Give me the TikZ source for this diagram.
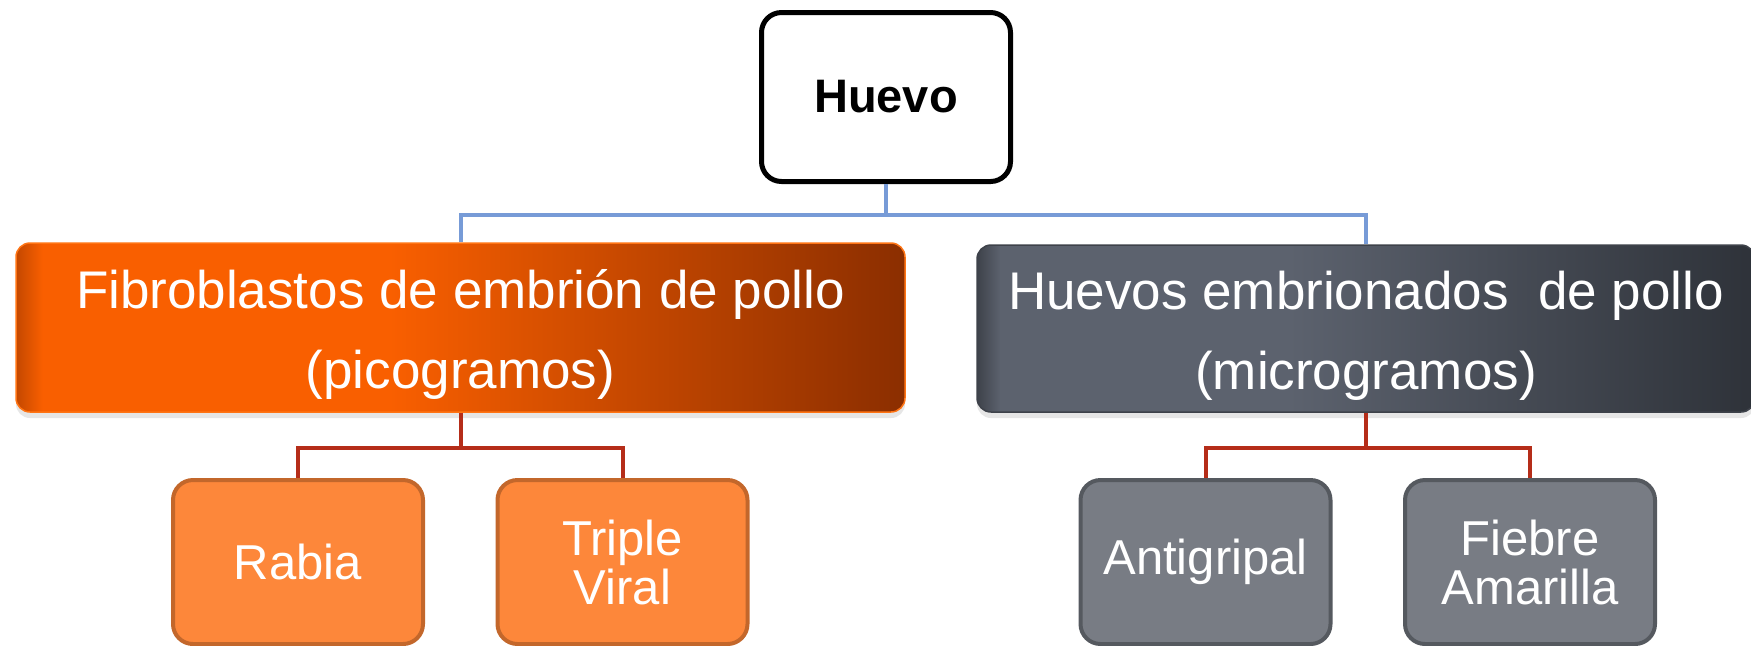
\documentclass[tikz,border=0pt]{standalone}
\usepackage{fontspec}
\setmainfont{Liberation Sans}
\usetikzlibrary{shadows}

\newcommand{\dosrenglones}[2]{\rule{0pt}{27pt}#1\\#2\rule[-6pt]{0pt}{0pt}}

\definecolor{naranjaclaro}{HTML}{F95F00}
\definecolor{naranjaoscuro}{HTML}{8B2E00}
\definecolor{naranjaborde}{HTML}{C44800}
\definecolor{naranjalinea}{HTML}{FF7414}
\definecolor{pizarraclaro}{HTML}{5C626E}
\definecolor{pizarraoscuro}{HTML}{2E3239}
\definecolor{pizarraborde}{HTML}{3E424A}
\definecolor{vacunanaranja}{HTML}{FD873A}
\definecolor{vacunanaranjaborde}{HTML}{C3672B}
\definecolor{vacunagris}{HTML}{787C84}
\definecolor{vacunagrisborde}{HTML}{55595F}
\definecolor{azul}{HTML}{779BD7}
\definecolor{rojo}{HTML}{B52D19}

\pgfdeclarehorizontalshading{naranja}{100bp}{color(0bp)=(naranjaborde); color(25bp)=(naranjaborde); color(26.5bp)=(naranjaclaro); color(46bp)=(naranjaclaro); color(75bp)=(naranjaoscuro); color(100bp)=(naranjaoscuro)}
\pgfdeclarehorizontalshading{pizarra}{100bp}{color(0bp)=(pizarraborde); color(25bp)=(pizarraborde); color(26.5bp)=(pizarraclaro); color(45bp)=(pizarraclaro); color(75bp)=(pizarraoscuro); color(100bp)=(pizarraoscuro)}

\begin{document}
\begin{tikzpicture}
                \tikzset{x=5pt, y=-5pt}
                \tikzstyle{raiz}=[rectangle, draw=black, line width=2.5pt, rounded corners=10pt, fill=white, minimum width=124.5pt, minimum height=84.5pt, font=\fontsize{23.5}{28}\selectfont\bfseries]
                \tikzstyle{grupo}=[rectangle, rounded corners=7pt, line width=0.75pt, text=white, align=center, inner ysep=2pt, font=\fontsize{26.5}{39.7}\selectfont, drop shadow={shadow xshift=0pt, shadow yshift=-3pt, opacity=0.2}]
                \tikzstyle{vacuna}=[rectangle, rounded corners=10pt, line width=2pt, minimum width=125pt, minimum height=82pt, text=white, align=center, font=\fontsize{24.5}{24.5}\selectfont]
                \tikzstyle{tronco}=[line width=2pt, draw=azul]
                \tikzstyle{rama}=[line width=2pt, draw=rojo]

                \useasboundingbox (0.0, 0.0) rectangle (175.1, 64.5);

                \draw (88.6, 9.7)     node[raiz]      (huevo)      {Huevo};

                \draw (46.05, 32.75)  node[grupo, shading=naranja, draw=naranjalinea, minimum width=444.5pt, minimum height=84.5pt]   (fibro)  {\dosrenglones{Fibroblastos de embrión de pollo}{(picogramos)}};
                \draw (136.6, 32.85)  node[grupo, shading=pizarra, draw=pizarraborde, minimum width=389pt, minimum height=83.5pt]   (huevos) {\dosrenglones{Huevos embrionados\ \ de pollo}{(microgramos)}};

                \draw (29.8, 56.2)    node[vacuna, fill=vacunanaranja, draw=vacunanaranjaborde]   (rabia)      {Rabia};
                \draw (62.25, 56.2)   node[vacuna, fill=vacunanaranja, draw=vacunanaranjaborde]   (triple)     {Triple\\Viral};
                \draw (120.55, 56.2)  node[vacuna, fill=vacunagris, draw=vacunagrisborde]         (antigripal) {Antigripal};
                \draw (153.0, 56.2)   node[vacuna, fill=vacunagris, draw=vacunagrisborde]         (fiebre)     {Fiebre\\Amarilla};

                \draw [tronco]        (huevo.south) -- ++(0, 3.1) -| (fibro.north);
                \draw [tronco]        (huevo.south) -- ++(0, 3.1) -| (huevos.north);
                \draw [rama]          (fibro.south) -- ++(0, 3.5) -| (rabia.north);
                \draw [rama]          (fibro.south) -- ++(0, 3.5) -| (triple.north);
                \draw [rama]          (huevos.south) -- ++(0, 3.5) -| (antigripal.north);
                \draw [rama]          (huevos.south) -- ++(0, 3.5) -| (fiebre.north);
            \end{tikzpicture}
\end{document}
